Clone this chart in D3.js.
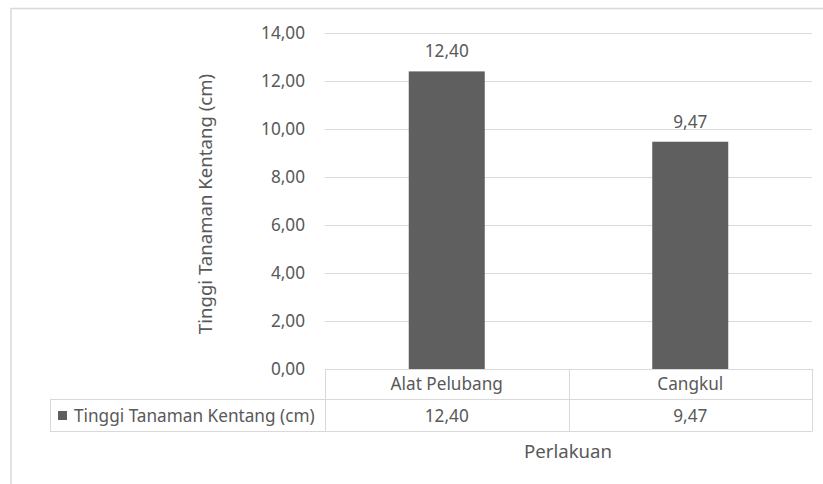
<!DOCTYPE html>
<html>
<head>
<meta charset="utf-8">
<script src="https://cdn.jsdelivr.net/npm/d3@7"></script>
<style>
  body { margin: 0; background: #fff; }
  svg { display: block; font-family: "Noto Sans", "Open Sans", sans-serif; }
</style>
</head>
<body>
<svg width="823" height="484"></svg>
<script>
const categories = ["Alat Pelubang", "Cangkul"];
const seriesName = "Tinggi Tanaman Kentang (cm)";
const values = [12.40, 9.47];
const yTicks = [0, 2, 4, 6, 8, 10, 12, 14];
const yTitle = "Tinggi Tanaman Kentang (cm)";
const xTitle = "Perlakuan";

const TEXT = "#595959";
const GRID = "#d9d9d9";
const BAR = "#5f5f5f";
const FS = "17.2px";     // tick labels, data labels, table text
const TITLE_FS = "18.6px";

const locale = d3.formatLocale({decimal: ",", thousands: ".", grouping: [3], currency: ["", ""]});
const fmt = locale.format(".2f");

function drawChart(svg) {
    // chart border (cropped at right and bottom like the source)
    svg.append("rect")
        .attr("x", 11).attr("y", 8.5)
        .attr("width", 830).attr("height", 500)
        .style("fill", "none")
        .style("stroke", GRID)
        .style("stroke-width", "1.5px");

    const x = d3.scaleBand()
        .domain(categories)
        .range([325, 812])
        .paddingInner(0).paddingOuter(0);

    const y = d3.scaleLinear()
        .domain([0, 14])
        .range([369, 33]);

    const barW = 76;

    // gridlines
    svg.append("g")
        .selectAll("line")
        .data(yTicks.filter(d => d > 0))
        .enter().append("line")
        .attr("x1", 325).attr("x2", 812)
        .attr("y1", d => Math.round(y(d)) + 0.5)
        .attr("y2", d => Math.round(y(d)) + 0.5)
        .style("stroke", GRID)
        .style("stroke-width", "1px");

    // y axis labels
    svg.append("g")
        .selectAll("text")
        .data(yTicks)
        .enter().append("text")
        .attr("x", 305)
        .attr("y", d => y(d))
        .attr("dy", "0.35em")
        .attr("text-anchor", "end")
        .style("font-size", FS)
        .style("fill", TEXT)
        .text(d => fmt(d));

    // bars
    svg.append("g")
        .selectAll("rect")
        .data(values)
        .enter().append("rect")
        .attr("x", (d, i) => x(categories[i]) + x.bandwidth() / 2 - barW / 2)
        .attr("y", d => y(d))
        .attr("width", barW)
        .attr("height", d => y(0) - y(d))
        .style("fill", BAR);

    // value labels
    svg.append("g")
        .selectAll("text")
        .data(values)
        .enter().append("text")
        .attr("x", (d, i) => x(categories[i]) + x.bandwidth() / 2)
        .attr("y", d => y(d) - 14)
        .attr("text-anchor", "middle")
        .style("font-size", FS)
        .style("fill", TEXT)
        .text(d => fmt(d));

    // data table
    const rowTop = y(0), rowMid = 399.5, rowBot = 431.5;
    const t = svg.append("g")
        .style("stroke", GRID)
        .style("stroke-width", "1px")
        .style("fill", "none");
    t.append("line").attr("x1", 325).attr("x2", 812).attr("y1", rowTop + 0.5).attr("y2", rowTop + 0.5);
    t.append("line").attr("x1", 50).attr("x2", 812).attr("y1", rowMid).attr("y2", rowMid);
    t.append("line").attr("x1", 50).attr("x2", 812).attr("y1", rowBot).attr("y2", rowBot);
    t.append("line").attr("x1", 50.5).attr("x2", 50.5).attr("y1", rowMid).attr("y2", rowBot);
    const cols = [325, ...categories.map(c => x(c) + x.bandwidth())];
    t.selectAll("line.col")
        .data(cols)
        .enter().append("line")
        .attr("class", "col")
        .attr("x1", d => Math.round(d) + 0.5).attr("x2", d => Math.round(d) + 0.5)
        .attr("y1", rowTop).attr("y2", rowBot);

    svg.append("g")
        .selectAll("text")
        .data(categories)
        .enter().append("text")
        .attr("x", d => x(d) + x.bandwidth() / 2)
        .attr("y", (rowTop + rowMid) / 2)
        .attr("dy", "0.35em")
        .attr("text-anchor", "middle")
        .style("font-size", FS)
        .style("fill", TEXT)
        .text(d => d);

    svg.append("g")
        .selectAll("text")
        .data(values)
        .enter().append("text")
        .attr("x", (d, i) => x(categories[i]) + x.bandwidth() / 2)
        .attr("y", (rowMid + rowBot) / 2)
        .attr("dy", "0.35em")
        .attr("text-anchor", "middle")
        .style("font-size", FS)
        .style("fill", TEXT)
        .text(d => fmt(d));

    // legend key in table
    svg.append("rect")
        .attr("x", 58).attr("y", 411)
        .attr("width", 9).attr("height", 9)
        .style("fill", BAR);
    svg.append("text")
        .attr("x", 74)
        .attr("y", (rowMid + rowBot) / 2)
        .attr("dy", "0.35em")
        .style("font-size", FS)
        .style("fill", TEXT)
        .text(seriesName);

    // axis titles
    svg.append("text")
        .attr("transform", "translate(205, 204) rotate(-90)")
        .attr("dy", "0.35em")
        .attr("text-anchor", "middle")
        .style("font-size", TITLE_FS)
        .style("fill", TEXT)
        .text(yTitle);

    svg.append("text")
        .attr("x", 568)
        .attr("y", 451)
        .attr("dy", "0.35em")
        .attr("text-anchor", "middle")
        .style("font-size", TITLE_FS)
        .style("fill", TEXT)
        .text(xTitle);
}

drawChart(d3.select("svg"));
</script>
</body>
</html>
